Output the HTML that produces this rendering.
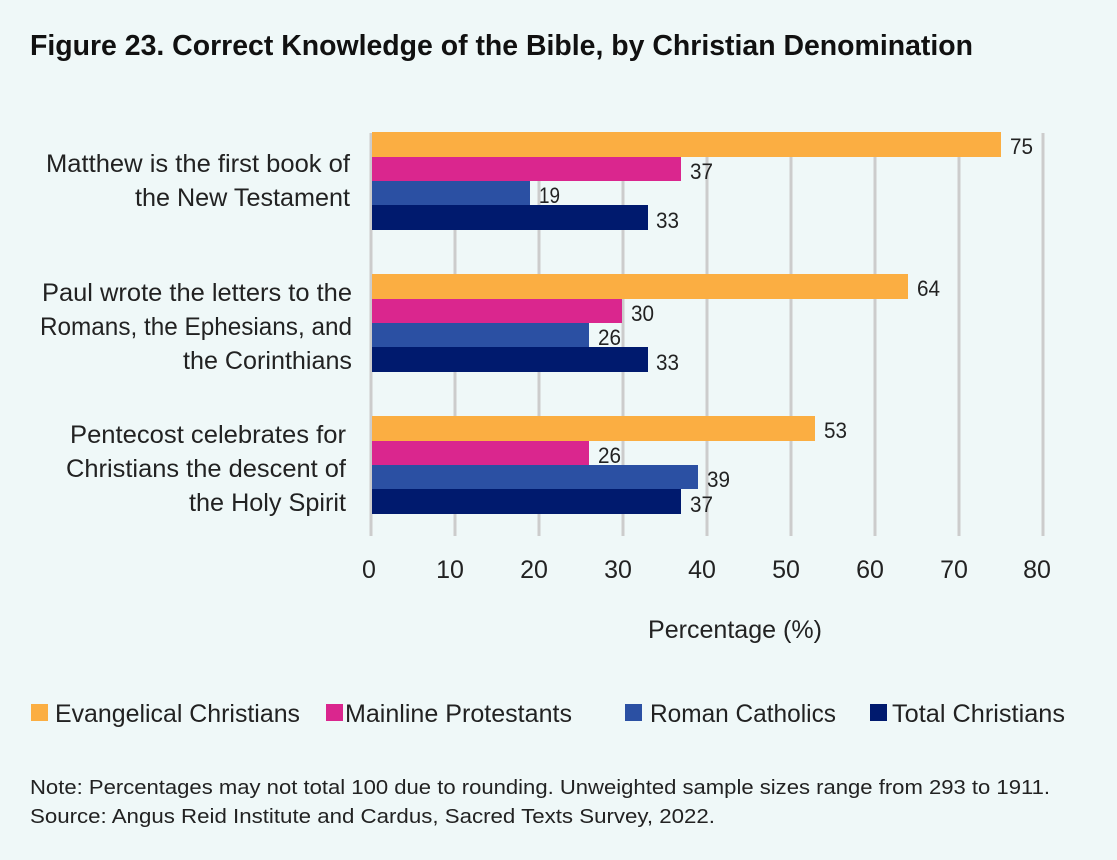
<!DOCTYPE html>
<html><head><meta charset="utf-8"><style>
body{margin:0;background:#eff8f8;}
svg{display:block;font-family:"Liberation Sans",sans-serif;}
</style></head><body>
<svg width="1117" height="860" viewBox="0 0 1117 860">
<rect width="1117" height="860" fill="#eff8f8"/>
<text x="30" y="55" font-size="29" font-weight="bold" fill="#111" textLength="943" lengthAdjust="spacingAndGlyphs">Figure 23. Correct Knowledge of the Bible, by Christian Denomination</text>
<g stroke="#cccccc" stroke-width="3">
<line x1="371" y1="133" x2="371" y2="536"/><line x1="455" y1="133" x2="455" y2="536"/><line x1="539" y1="133" x2="539" y2="536"/><line x1="623" y1="133" x2="623" y2="536"/><line x1="707" y1="133" x2="707" y2="536"/><line x1="791" y1="133" x2="791" y2="536"/><line x1="875" y1="133" x2="875" y2="536"/><line x1="959" y1="133" x2="959" y2="536"/><line x1="1043" y1="133" x2="1043" y2="536"/>
</g>
<g>
<rect x="372" y="132" width="629" height="25" fill="#fbae42"/>
<rect x="372" y="157" width="309" height="24" fill="#da268e"/>
<rect x="372" y="181" width="158" height="24" fill="#2b50a3"/>
<rect x="372" y="205" width="276" height="25" fill="#001a6e"/>
<rect x="372" y="274" width="536" height="25" fill="#fbae42"/>
<rect x="372" y="299" width="250" height="24" fill="#da268e"/>
<rect x="372" y="323" width="217" height="24" fill="#2b50a3"/>
<rect x="372" y="347" width="276" height="25" fill="#001a6e"/>
<rect x="372" y="416" width="443" height="25" fill="#fbae42"/>
<rect x="372" y="441" width="217" height="24" fill="#da268e"/>
<rect x="372" y="465" width="326" height="24" fill="#2b50a3"/>
<rect x="372" y="489" width="309" height="25" fill="#001a6e"/>
</g>
<g font-size="22" fill="#222">
<text x="1010" y="154" textLength="23" lengthAdjust="spacingAndGlyphs">75</text><text x="690" y="179" textLength="23" lengthAdjust="spacingAndGlyphs">37</text><text x="539" y="203" textLength="21" lengthAdjust="spacingAndGlyphs">19</text><text x="656" y="228" textLength="23" lengthAdjust="spacingAndGlyphs">33</text>
<text x="917" y="296" textLength="23" lengthAdjust="spacingAndGlyphs">64</text><text x="631" y="321" textLength="23" lengthAdjust="spacingAndGlyphs">30</text><text x="598" y="345" textLength="23" lengthAdjust="spacingAndGlyphs">26</text><text x="656" y="370" textLength="23" lengthAdjust="spacingAndGlyphs">33</text>
<text x="824" y="438" textLength="23" lengthAdjust="spacingAndGlyphs">53</text><text x="598" y="463" textLength="23" lengthAdjust="spacingAndGlyphs">26</text><text x="707" y="487" textLength="23" lengthAdjust="spacingAndGlyphs">39</text><text x="690" y="512" textLength="23" lengthAdjust="spacingAndGlyphs">37</text>
</g>
<g font-size="25" fill="#222" lengthAdjust="spacingAndGlyphs">
<text x="46" y="172" textLength="304" lengthAdjust="spacingAndGlyphs">Matthew is the first book of</text><text x="135" y="206" textLength="215" lengthAdjust="spacingAndGlyphs">the New Testament</text>
<text x="42" y="301" textLength="310" lengthAdjust="spacingAndGlyphs">Paul wrote the letters to the</text><text x="40" y="335" textLength="312" lengthAdjust="spacingAndGlyphs">Romans, the Ephesians, and</text><text x="183" y="369" textLength="169" lengthAdjust="spacingAndGlyphs">the Corinthians</text>
<text x="70" y="443" textLength="276" lengthAdjust="spacingAndGlyphs">Pentecost celebrates for</text><text x="66" y="477" textLength="280" lengthAdjust="spacingAndGlyphs">Christians the descent of</text><text x="189" y="511" textLength="157" lengthAdjust="spacingAndGlyphs">the Holy Spirit</text>
</g>
<g font-size="25" fill="#222" text-anchor="middle">
<text x="369" y="578">0</text><text x="450" y="578">10</text><text x="534" y="578">20</text><text x="618" y="578">30</text><text x="702" y="578">40</text><text x="786" y="578">50</text><text x="870" y="578">60</text><text x="954" y="578">70</text><text x="1037" y="578">80</text>
</g>
<text x="648" y="638" font-size="25" fill="#222" textLength="174" lengthAdjust="spacingAndGlyphs">Percentage (%)</text>
<g font-size="25" fill="#222">
<rect x="31" y="704" width="17" height="17" fill="#fbae42"/><text x="55" y="722" textLength="245" lengthAdjust="spacingAndGlyphs">Evangelical Christians</text>
<rect x="326" y="704" width="17" height="17" fill="#da268e"/><text x="345" y="722" textLength="227" lengthAdjust="spacingAndGlyphs">Mainline Protestants</text>
<rect x="625" y="704" width="17" height="17" fill="#2b50a3"/><text x="650" y="722" textLength="186" lengthAdjust="spacingAndGlyphs">Roman Catholics</text>
<rect x="870" y="704" width="17" height="17" fill="#001a6e"/><text x="892" y="722" textLength="173" lengthAdjust="spacingAndGlyphs">Total Christians</text>
</g>
<g font-size="20" fill="#222">
<text x="30" y="794" textLength="1020" lengthAdjust="spacingAndGlyphs">Note: Percentages may not total 100 due to rounding. Unweighted sample sizes range from 293 to 1911.</text>
<text x="30" y="823" textLength="685" lengthAdjust="spacingAndGlyphs">Source: Angus Reid Institute and Cardus, Sacred Texts Survey, 2022.</text>
</g>
</svg>
</body></html>
